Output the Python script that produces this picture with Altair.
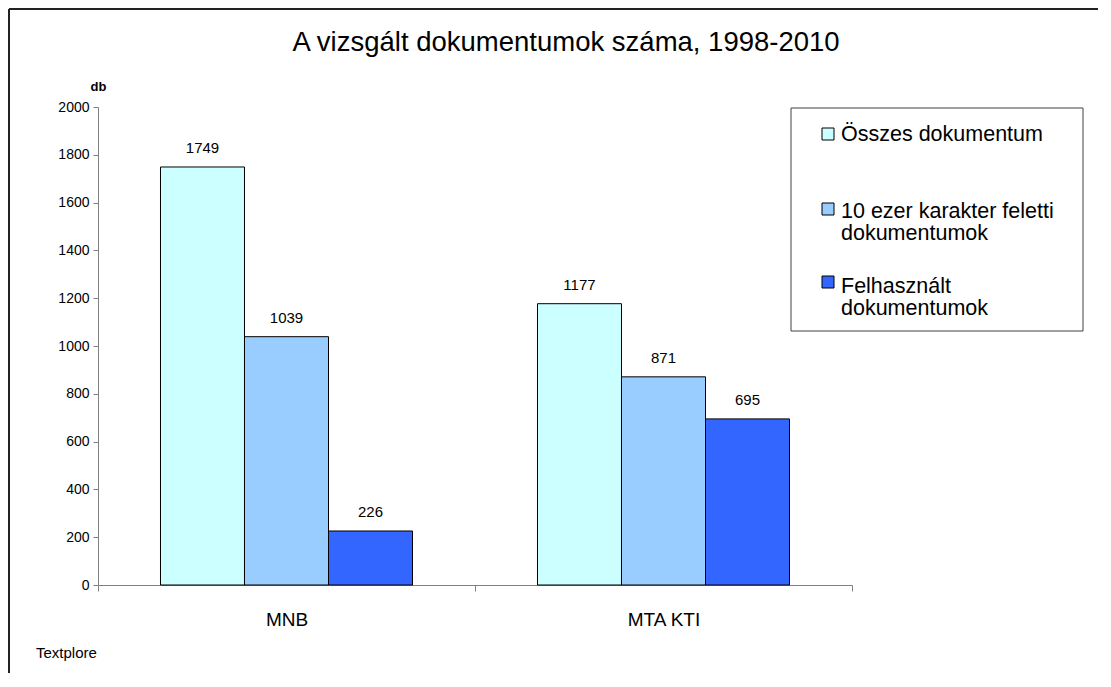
import altair as alt
import pandas as pd

# ---- data ----
categories = ["MNB", "MTA KTI"]
series = ["Összes dokumentum", "10 ezer karakter feletti dokumentumok", "Felhasznált dokumentumok"]
legend_labels = ["Összes dokumentum", "10 ezer karakter feletti\ndokumentumok", "Felhasznált\ndokumentumok"]
mnb_values = [1749, 1039, 226]
mta_kti_values = [1177, 871, 695]
y_ticks = [0, 200, 400, 600, 800, 1000, 1200, 1400, 1600, 1800, 2000]
colors = ["#CCFFFF", "#99CCFF", "#3366FF"]
title_text = "A vizsgált dokumentumok száma, 1998-2010"
source_text = "Textplore"

rows = []
for cat, vals in zip(categories, [mnb_values, mta_kti_values]):
    for s, v in zip(series, vals):
        rows.append({"kategoria": cat, "sorozat": s, "db": v})
df = pd.DataFrame(rows)
legend_df = pd.DataFrame({"sorozat": series, "felirat": legend_labels})
one = pd.DataFrame({"k": [0]})

FONT = "Liberation Sans"
W, H = 754, 478

x_enc = alt.X(
    "kategoria:N", sort=categories,
    scale=alt.Scale(paddingInner=0, paddingOuter=0),
    axis=alt.Axis(title=None, labelAngle=0, labelFontSize=19, labelPadding=19,
                  tickBand="extent", tickSize=6, domainColor="#808080",
                  tickColor="#808080", labelColor="black"),
)
xo_enc = alt.XOffset("sorozat:N", sort=series, scale=alt.Scale(paddingInner=0, paddingOuter=0.744))
y_enc = alt.Y(
    "db:Q", scale=alt.Scale(domain=[0, 2000], nice=False),
    axis=alt.Axis(values=y_ticks, format="d", grid=False, title="db", titleAngle=0, titleX=0, titleY=-21,
                  titleAlign="center", titleBaseline="middle", titleFontWeight="bold",
                  titleFontSize=13, labelFontSize=14, tickSize=5, labelPadding=4,
                  domainColor="#808080", tickColor="#808080", labelColor="black"),
)
color_enc = alt.Color("sorozat:N", sort=series, scale=alt.Scale(domain=series, range=colors), legend=None)

bars = alt.Chart(df).mark_bar(stroke="black", strokeWidth=1).encode(
    x=x_enc, xOffset=xo_enc, y=y_enc, color=color_enc
)
bar_labels = alt.Chart(df).mark_text(baseline="alphabetic", dy=-14, fontSize=15, color="black").encode(
    x=x_enc, xOffset=xo_enc, y=y_enc, text="db:Q"
)

# outer frame lines
frame_left = alt.Chart(one).mark_rule(color="#222222", strokeWidth=2).encode(
    x=alt.value(-89), y=alt.value(-98), y2=alt.value(600)
)
frame_top = alt.Chart(one).mark_rule(color="#222222", strokeWidth=2).encode(
    x=alt.value(-89), x2=alt.value(1100), y=alt.value(-98)
)

title = alt.Chart(one).mark_text(text=title_text, fontSize=27.5, baseline="middle", align="center",
                                 color="black").encode(x=alt.value(468), y=alt.value(-64))
source = alt.Chart(one).mark_text(text=source_text, fontSize=15, baseline="middle", align="left",
                                  color="black").encode(x=alt.value(-62), y=alt.value(546))

# legend
legend_box = alt.Chart(one).mark_rect(fill="white", stroke="#404040", strokeWidth=1).encode(
    x=alt.value(693), x2=alt.value(985), y=alt.value(1), y2=alt.value(224)
)
swatch_tops = [21, 96, 169]
text_tops = [17, 94, 169]
legend_layers = [legend_box]
for s, sy, ty in zip(series, swatch_tops, text_tops):
    legend_layers.append(
        alt.Chart(legend_df).transform_filter(alt.datum.sorozat == s).mark_rect(
            stroke="black", strokeWidth=1
        ).encode(x=alt.value(724), x2=alt.value(736), y=alt.value(sy), y2=alt.value(sy + 12),
                 color=color_enc)
    )
    legend_layers.append(
        alt.Chart(legend_df).transform_filter(alt.datum.sorozat == s).mark_text(
            align="left", baseline="top", fontSize=21.5, lineBreak="\n", lineHeight=22, color="black"
        ).encode(x=alt.value(743), y=alt.value(ty), text="felirat:N")
    )

chart = alt.layer(frame_left, frame_top, bars, bar_labels, title, source, *legend_layers).properties(
    width=W, height=H,
    autosize=alt.AutoSizeParams(type="none"),
    padding={"left": 90, "top": 99, "right": 246, "bottom": 88},
    background="white",
).configure(font=FONT).configure_view(stroke=None)

chart.save("out.html", embed_options={"renderer": "svg", "actions": False})
